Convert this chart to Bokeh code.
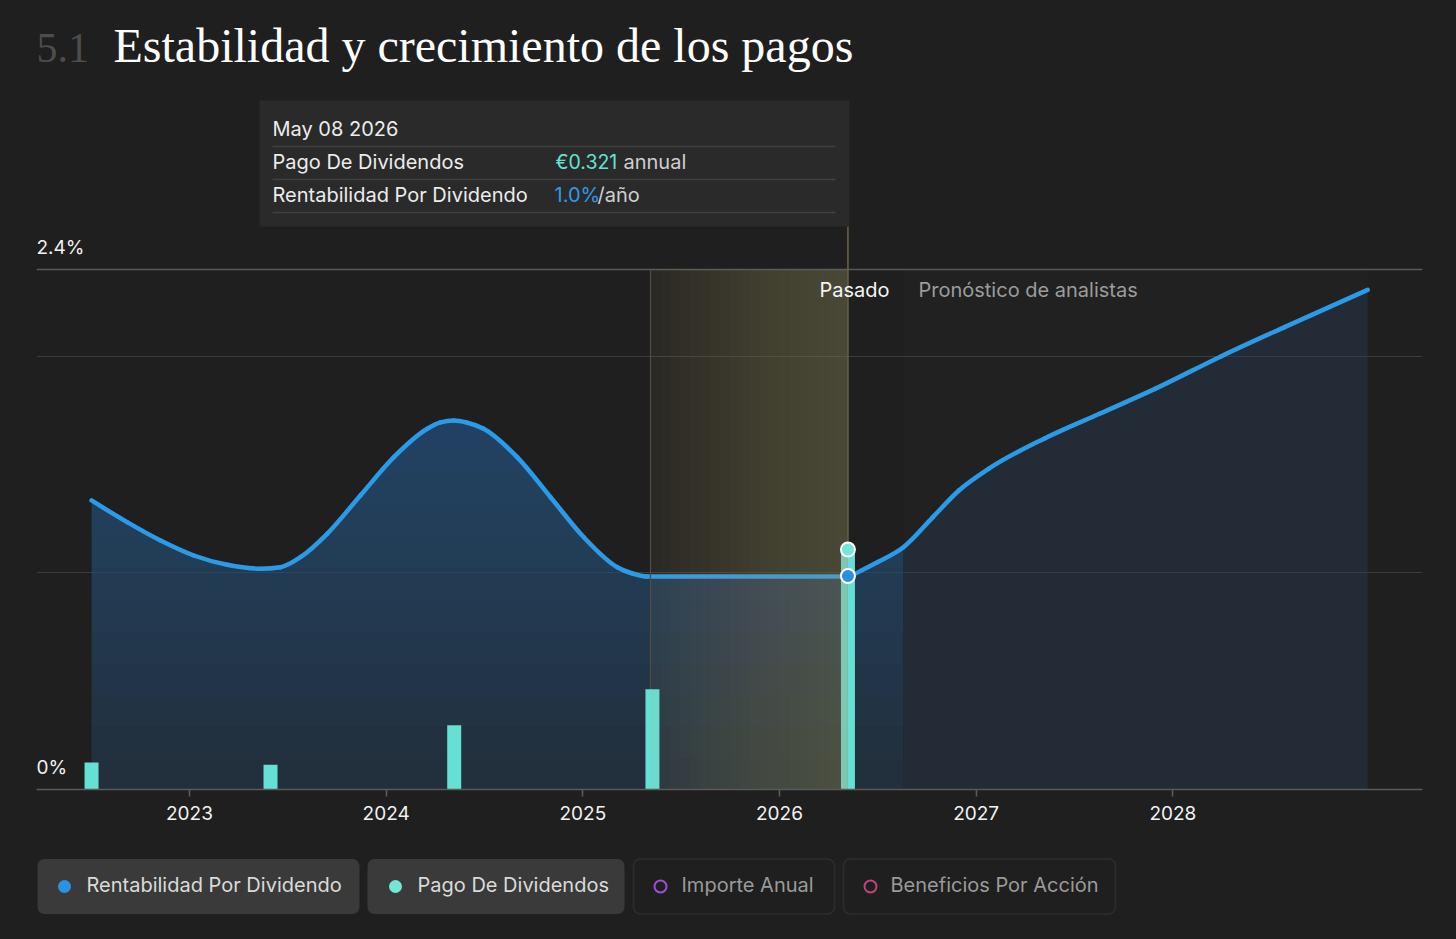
import numpy as np
from bokeh.plotting import figure
from bokeh.models import Range1d, FixedTicker, Grid, BoxAnnotation
from bokeh.layouts import column
from bokeh.core.properties import value
from bokeh.embed import file_html
from bokeh.resources import INLINE

# ------------------------------------------------------------------ data
year_ticks = [2023, 2024, 2025, 2026, 2027, 2028]

# dividend yield (%)
yield_x = [2022.502, 2022.683, 2022.853, 2023.022, 2023.192, 2023.361, 2023.463,
           2023.564, 2023.700, 2023.869, 2024.039, 2024.209, 2024.276, 2024.344,
           2024.409, 2024.496, 2024.666, 2024.836, 2025.005, 2025.175, 2025.252,
           2025.327, 2026.342, 2026.417, 2026.498, 2026.630, 2026.780, 2026.912,
           2027.063, 2027.345, 2027.627, 2027.909, 2028.247, 2028.568, 2028.991]
yield_y = [1.334, 1.234, 1.149, 1.080, 1.037, 1.019, 1.026,
           1.072, 1.180, 1.357, 1.534, 1.665, 1.694, 1.703,
           1.694, 1.665, 1.534, 1.349, 1.164, 1.026, 0.997,
           0.983, 0.983, 1.011, 1.049, 1.118, 1.257, 1.380,
           1.480, 1.619, 1.734, 1.849, 2.000, 2.134, 2.306]

# dividend payments (EUR)
pay_dates = [2022.502, 2023.412, 2024.346, 2025.354, 2026.348]
pay_amounts = [0.036, 0.033, 0.086, 0.134, 0.321]

hover_date = 2026.348          # May 08 2026
hover_label = "May 08 2026"
highlight_start = 2025.344
forecast_start = 2026.630
forecast_end = 2028.991

ylabel_ticks = [0.0, 2.4]
ylabel_text = ["0%", "2.4%"]
grid_ticks = [1.0, 2.0]
top_tick = [2.4]

legend_labels = ["Rentabilidad Por Dividendo", "Pago De Dividendos",
                 "Importe Anual", "Beneficios Por Acción"]
legend_colors = ["#2b92e2", "#74e6d6", "#9b4fdc", "#c2417f"]
legend_active = [True, True, False, False]

# ------------------------------------------------------------------ style
BG = "#1f1f1f"
LINE_BLUE = "#2b9be8"
BAR_TEAL = "#66dfd5"
FONT = "Inter"
SERIF = "Liberation Serif"
BASE_K = 0.40                # baseline correction (fraction of font size)

W = 1456
FL, FR = 36, 1422            # frame left / right (page px)
FB = 789                     # frame bottom (page px)
X0, X1 = 2022.2221, 2029.2694
PX_PER_PCT = 216.67
Y_TOP = FB / PX_PER_PCT
DIV_TOP = pay_amounts[-1] * FB / 240.0


def X(px):
    return X0 + (px - FL) * (X1 - X0) / (FR - FL)


def Y(py):
    return (FB - py) / PX_PER_PCT


p = figure(width=W, height=839, x_range=Range1d(X0, X1), y_range=Range1d(0, Y_TOP),
           toolbar_location=None, output_backend="svg", y_axis_location=None,
           min_border_left=FL, min_border_right=W - FR, min_border_top=0, min_border_bottom=50,
           background_fill_color=BG, border_fill_color=BG, outline_line_color=None)
p.extra_y_ranges = {"div": Range1d(0, DIV_TOP)}
p.xgrid.visible = False
p.ygrid.visible = False

p.add_layout(Grid(dimension=1, ticker=FixedTicker(ticks=grid_ticks),
                  grid_line_color="#3c3c3c", grid_line_width=1.2))
p.add_layout(Grid(dimension=1, ticker=FixedTicker(ticks=top_tick),
                  grid_line_color="#595959", grid_line_width=1.6))

ax = p.xaxis[0]
ax.ticker = FixedTicker(ticks=year_ticks)
ax.axis_line_color = "#5a5a5a"
ax.axis_line_width = 1.6
ax.major_tick_line_color = "#5a5a5a"
ax.major_tick_line_width = 1.6
ax.major_tick_out = 7
ax.major_tick_in = 0
ax.minor_tick_line_color = None
ax.major_label_text_color = "#f2f2f2"
ax.major_label_text_font = FONT
ax.major_label_text_font_size = "19px"
ax.major_label_standoff = 9

yx = np.array(yield_x)
yy = np.array(yield_y)
past = yx <= forecast_start + 1e-9
fut = yx >= forecast_start - 1e-9

# forecast background
p.quad(left=[forecast_start], right=[forecast_end], bottom=[0], top=[2.4],
       fill_color="white", fill_alpha=0.012, line_color=None)

# past area with vertical gradient (stacked translucent layers)
px_, py_ = yx[past], yy[past]
p.varea(x=px_, y1=0, y2=py_, fill_color="#284869", fill_alpha=0.40)
N = 12
for k in range(1, N + 1):
    lev = 1.75 * k / N
    p.varea(x=px_, y1=np.minimum(lev, py_), y2=py_, fill_color="#2d6496", fill_alpha=0.05)

# forecast area
p.varea(x=yx[fut], y1=0, y2=yy[fut], fill_color="#233750", fill_alpha=0.45)

# yield line: smooth monotone cubic through the read points
h = np.diff(yx)
s = np.diff(yy) / h
t = np.zeros(len(yx))
for i in range(1, len(yx) - 1):
    s0, s1, h0, h1 = s[i - 1], s[i], h[i - 1], h[i]
    pp = (s0 * h1 + s1 * h0) / (h0 + h1)
    t[i] = (np.sign(s0) + np.sign(s1)) * min(abs(s0), abs(s1), 0.5 * abs(pp))
t[0] = (3 * s[0] - t[1]) / 2
t[-1] = (3 * s[-1] - t[-2]) / 2
p.bezier(x0=yx[:-1], y0=yy[:-1], x1=yx[1:], y1=yy[1:],
         cx0=yx[:-1] + h / 3, cy0=yy[:-1] + t[:-1] * h / 3,
         cx1=yx[1:] - h / 3, cy1=yy[1:] - t[1:] * h / 3,
         line_width=4.5, line_color=LINE_BLUE, line_cap="round")

# vertical guide lines
p.segment(x0=[highlight_start], y0=[0], x1=[highlight_start], y1=[2.4],
          line_color="#4e4a43", line_width=1.2)
p.segment(x0=[hover_date], y0=[0], x1=[hover_date], y1=[Y(226)],
          line_color="#6f6049", line_width=1.5)

# dividend bars
bw = 14 / 196.67
p.vbar(x=pay_dates, top=pay_amounts, width=bw, bottom=0, y_range_name="div",
       fill_color=BAR_TEAL, line_color=None)

# highlighted period (horizontal gradient overlay)
OV = "#d0a46e"
p.quad(left=[highlight_start], right=[hover_date], bottom=[0], top=[2.4],
       fill_color=OV, fill_alpha=0.06, line_color=None)
M = 20
edges = np.linspace(highlight_start, hover_date, M + 1)[:-1]
p.quad(left=edges, right=[hover_date] * M, bottom=0, top=2.4,
       fill_color=OV, fill_alpha=0.0155, line_color=None)

# hover markers
hover_yield = float(np.interp(hover_date, yx, yy))
p.scatter(x=[hover_date], y=[pay_amounts[-1]], y_range_name="div", size=14,
          fill_color="#74e6d6", line_color="white", line_width=2)
p.scatter(x=[hover_date], y=[hover_yield], size=14,
          fill_color="#2b8fe0", line_color="white", line_width=2)


def txt(fig, x, y, s, color, size=20, font=FONT, align="left"):
    fig.text(x=[x], y=[y], text=[s], text_color=color, text_font=value(font),
             text_font_size=f"{size}px", text_align=align, text_baseline="alphabetic",
             y_offset=-BASE_K * size)


# y labels
p.text(x=[X0] * len(ylabel_ticks), y=ylabel_ticks, text=ylabel_text,
       y_offset=-14 - BASE_K * 19,
       text_color="#f2f2f2", text_font=value(FONT), text_font_size="19px",
       text_align="left", text_baseline="alphabetic")

# period labels
txt(p, X(889), Y(297.5), "Pasado", "#f4f4f4", align="right")
txt(p, X(918), Y(297.5), "Pronóstico de analistas", "#9c9c9c")

# title
txt(p, X(36), Y(64), "5.1", "#4d4d4d", size=42, font=SERIF)
txt(p, X(113), Y(64), "Estabilidad y crecimiento de los pagos", "#ffffff", size=48, font=SERIF)

# tooltip
p.quad(left=[X(259)], right=[X(849)], bottom=[Y(226)], top=[Y(100)],
       fill_color="#2a2a2a", line_color=None)
p.segment(x0=[X(272)] * 3, x1=[X(835)] * 3, y0=[Y(146), Y(179), Y(212)],
          y1=[Y(146), Y(179), Y(212)], line_color="#404040", line_width=1.6)
txt(p, X(272), Y(136.5), hover_label, "#ececec")
txt(p, X(272), Y(169), "Pago De Dividendos", "#ececec")
txt(p, X(272), Y(202), "Rentabilidad Por Dividendo", "#ececec")
txt(p, X(555), Y(169), f"€{pay_amounts[-1]:.3f}", "#62e3d2", size=19.5)
txt(p, X(623), Y(169), "annual", "#cfcfcf")
txt(p, X(554), Y(202), f"{hover_yield:.1f}%", "#2f9be6")
txt(p, X(597), Y(202), "/año", "#cfcfcf")

# ------------------------------------------------------------------ legend (page px coords, y = -page_y)
LT, LB = 839, 939
leg = figure(width=W, height=LB - LT, x_range=Range1d(FL, FR), y_range=Range1d(-LB, -LT),
             toolbar_location=None, output_backend="svg", x_axis_location=None,
             y_axis_location=None, min_border_left=FL, min_border_right=W - FR,
             min_border_top=0, min_border_bottom=0, background_fill_color=BG,
             border_fill_color=BG, outline_line_color=None)
leg.grid.visible = False

btn_l = [37, 367, 633, 843]
btn_r = [359, 624, 834, 1115]
dot_x = [64, 395, 660, 870]
lab_x = [86, 417, 681, 890]
b_top, b_bot = -858.5, -913.5
cy = -886
for i, lab in enumerate(legend_labels):
    act = legend_active[i]
    leg.add_layout(BoxAnnotation(left=btn_l[i], right=btn_r[i], bottom=b_bot, top=b_top,
                                 fill_color="#3a3a3a" if act else BG, fill_alpha=1.0,
                                 line_color=None if act else "#4e4e4e", line_width=1.6,
                                 border_radius=7, level="underlay"))
    if act:
        leg.scatter(x=[dot_x[i]], y=[cy], size=13, fill_color=legend_colors[i], line_color=None)
    else:
        leg.scatter(x=[dot_x[i]], y=[cy], size=12, fill_color=None,
                    line_color=legend_colors[i], line_width=2)
    txt(leg, lab_x[i], -892.5, lab, "#dadada" if act else "#9a9a9a")

layout = column(p, leg, spacing=0)
html = file_html(layout, INLINE, title="Estabilidad y crecimiento de los pagos")
html = html.replace("</head>",
                    "<style>html,body{background:#1f1f1f;margin:0;padding:0;}</style></head>", 1)
open("out.html", "w", encoding="utf-8").write(html)
